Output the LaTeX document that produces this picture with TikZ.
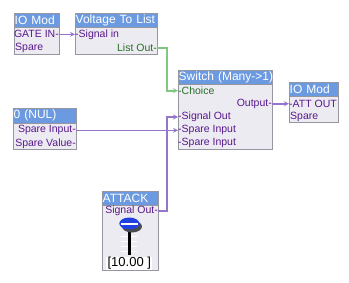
\documentclass[tikz,border=0pt]{standalone}
\usepackage{fontspec}
\setmainfont{Liberation Sans}
\usepackage{tikz}
\usetikzlibrary{arrows.meta,positioning,calc}
\definecolor{headblue}{RGB}{108,154,224}
\definecolor{bodygray}{RGB}{237,235,242}
\definecolor{framegray}{RGB}{150,150,160}
\definecolor{porttext}{RGB}{88,24,140}
\definecolor{portgreen}{RGB}{40,110,40}
\definecolor{wirepurple}{RGB}{150,118,204}
\definecolor{wiregreen}{RGB}{128,200,128}
\definecolor{knobblue}{RGB}{32,64,224}

\begin{document}
\begin{tikzpicture}[>={Stealth[length=5pt,width=5pt]}, x=1pt, y=-1pt,
  modbody/.style={rectangle, anchor=north west, draw=framegray, fill=bodygray, inner sep=0pt},
  modtitle/.style={rectangle, anchor=north west, draw=framegray, fill=headblue, text=white, inner xsep=0.5pt, inner ysep=0pt, minimum height=14pt, align=left, font=\fontsize{12}{12}\selectfont},
  portin/.style={anchor=west, inner sep=0pt, text=porttext, font=\fontsize{10.5}{10.5}\selectfont},
  portout/.style={anchor=east, inner sep=0pt, text=porttext, font=\fontsize{10.5}{10.5}\selectfont},
  wire/.style={line width=1.6pt, wirepurple}]
\useasboundingbox (0,0) rectangle (349,282);

% modules
\node[modbody, minimum width=45pt, minimum height=41pt] (ioa) at (14,13) {};
\node[modtitle, text width=44pt] (ioahead) at (ioa.north west) {IO Mod};
\node[portout] (gatein) at (59,34.3) {GATE IN-};
\node[portin] (ioaspare) at (15,47.7) {Spare};

\node[modbody, minimum width=82pt, minimum height=41pt] (vtl) at (75,13) {};
\node[modtitle, text width=81pt] (vtlhead) at (vtl.north west) {\mbox{Voltage To List}};
\node[portin] (sigin) at (75,34.3) {-Signal in};
\node[portout, text=portgreen] (listout) at (157,47.7) {List Out-};

\node[modbody, minimum width=94pt, minimum height=79pt] (sw) at (178,70) {};
\node[modtitle, text width=93pt] (swhead) at (sw.north west) {\mbox{Switch (Many->1)}};
\node[portin, text=portgreen] (choice) at (178,90.7) {-Choice};
\node[portout] (swout) at (272,103.7) {Output-};
\node[portin] (sigout) at (178,117) {-Signal Out};
\node[portin] (spinA) at (178,130.3) {-Spare Input};
\node[portin] (spinB) at (178,143.3) {-Spare Input};

\node[modbody, minimum width=49pt, minimum height=40pt] (iob) at (289,82) {};
\node[modtitle, text width=48pt] (iobhead) at (iob.north west) {IO Mod};
\node[portin] (attout) at (289,103.7) {-ATT OUT};
\node[portin] (iobspare) at (290,117) {Spare};

\node[modbody, minimum width=63pt, minimum height=41pt] (nul) at (13,108) {};
\node[modtitle, text width=62pt, minimum height=15pt] (nulhead) at (nul.north west) {0 (NUL)};
\node[portout] (nulspin) at (76,130.3) {Spare Input-};
\node[portout] (nulspval) at (76,143.3) {Spare Value-};

\node[modbody, minimum width=56pt, minimum height=79pt] (atk) at (102,191) {};
\node[modtitle, text width=55pt] (atkhead) at (atk.north west) {ATTACK};
\node[portout] (atkout) at (158,211) {Signal Out-};

% slider
\foreach \ty in {236,241,246,251}
  \draw[white, line width=1pt] (121,\ty) -- (137,\ty);
\draw[black, line width=3pt] (129.3,226) -- (129.3,255);
\fill[gray!60!black] (132,226.5) ellipse [x radius=10, y radius=6];
\fill[knobblue] (129.3,223.5) ellipse [x radius=10, y radius=6];
\fill[white] (120.5,222.5) rectangle (138.1,224.7);
\node[fill=white, inner sep=0pt, minimum width=46pt, minimum height=13pt, font=\fontsize{13}{13}\selectfont] (atkval) at (129.3,263) {[10.00 ]};

% connectors
\draw[wire, ->] (gatein.east) -- (sigin.west);
\draw[wire, wiregreen, ->] (listout.east) -- ++(10,0) |- (choice.west);
\draw[wire, ->] (swout.east) -- (attout.west);
\draw[wire, ->] (nulspin.east) -- (spinA.west);
\draw[wire, ->] (atkout.east) -- ++(9,0) |- (sigout.west);
\end{tikzpicture}
\end{document}
